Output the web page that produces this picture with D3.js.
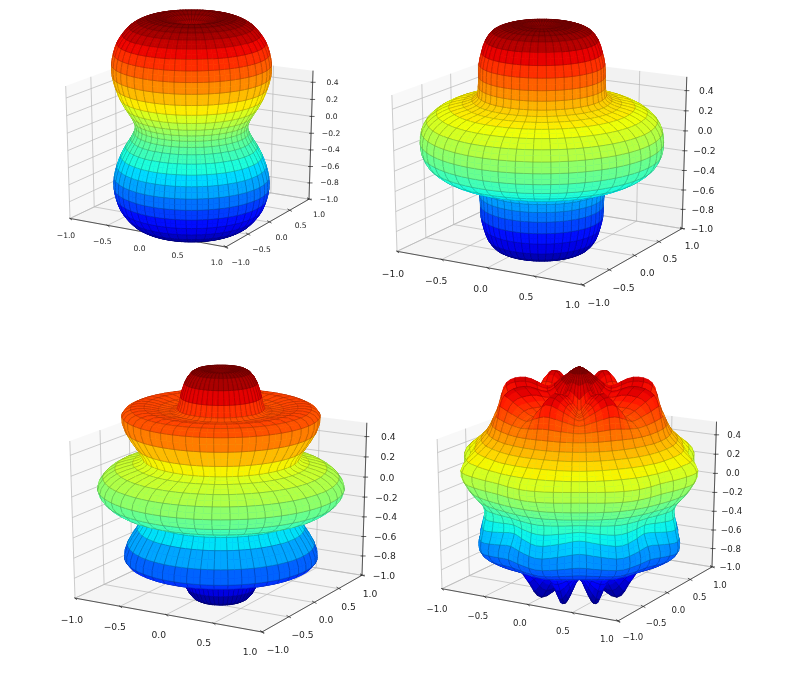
<!DOCTYPE html>
<html><head><meta charset="utf-8">
<script src="https://cdn.jsdelivr.net/npm/d3@7"></script>
<style>
html,body{margin:0;padding:0;background:#fff}
svg{display:block;filter:blur(0.35px)}
text{font-family:"DejaVu Sans";fill:#262626}
</style></head><body>
<svg id="chart" width="787" height="677"></svg>
<script>
// ----- tick values -----
const xTicks = [-1, -0.5, 0, 0.5, 1];
const yTicks = [-1, -0.5, 0, 0.5, 1];
const zTicks = [-1, -0.8, -0.6, -0.4, -0.2, 0, 0.2, 0.4];
const zTop = 0.535;

// ----- radius against polar angle, 0 to 180 degrees every 5 degrees -----
const radiusA = [1.05,1.07,1.12,1.18,1.24,1.27,1.29,1.30,1.29,1.27,1.23,1.18,1.11,1.02,0.93,0.84,0.76,0.71,0.69,
                 0.71,0.76,0.84,0.93,1.02,1.11,1.18,1.23,1.27,1.29,1.30,1.29,1.27,1.24,1.18,1.12,1.07,1.05];
const radiusB = [1.04,1.06,1.10,1.12,1.13,1.13,1.09,1.02,0.95,0.87,0.81,0.77,0.79,0.86,0.97,1.07,1.15,1.19,1.20,
                 1.19,1.15,1.07,0.97,0.86,0.79,0.77,0.81,0.87,0.95,1.02,1.09,1.13,1.13,1.12,1.10,1.06,1.04];
const radiusC = [1.05,1.08,1.11,1.10,1.03,0.93,0.85,0.87,0.95,1.06,1.15,1.18,1.08,0.92,0.82,0.90,1.06,1.17,1.22,
                 1.17,1.06,0.90,0.82,0.92,1.08,1.18,1.15,1.06,0.95,0.87,0.85,0.93,1.03,1.10,1.11,1.08,1.05];
// ----- rippled shape: radius along two meridians, 0 to 180 degrees every 10 degrees -----
const rippleCrest  = [1.13,1.03,0.98,1.14,1.20,1.10,1.04,1.12,1.24,1.12,1.00,1.08,1.20,1.14,1.04,1.10,1.20,1.03,0.98];
const rippleTrough = [1.13,1.00,0.82,0.86,0.98,1.04,1.04,1.08,1.12,1.10,0.96,0.96,1.14,1.12,1.00,0.92,0.90,0.94,0.98];
const rippleLobes = 8;
const rippleCrestAzimuth = -37.5;

// ----- layout of the four panels -----
const panels = [
 {kind:"revolve", radius:radiusA, zShift:-0.02, zScale:1.06, rhoScale:0.91, font:7.6,
  a:[70,217], b:[227,247], c:[309,198], d:[68,86],
  xOff:[[-4,17],[-9,15]], yOff:[[15,15],[10,15]], zOff:[20,0]},
 {kind:"revolve", radius:radiusB, zShift:-0.005, zScale:1.03, rhoScale:0.95, font:9.2,
  a:[397,249], b:[582,285], c:[682,228], d:[395,95],
  xOff:[[-4,22],[-10,19]], yOff:[[16,17],[10,17]], zOff:[20,0]},
 {kind:"revolve", radius:radiusC, zShift:0, zScale:1.03, rhoScale:0.94, font:9.2,
  a:[75,597], b:[262,632], c:[362,574], d:[73,441],
  xOff:[[-3,21],[-12,19]], yOff:[[16,17],[8,18]], zOff:[22,0]},
 {kind:"ripple", zShift:0, zScale:1.03, rhoScale:1, font:8.6,
  a:[442,587], b:[618,621], c:[712,565], d:[439,439],
  xOff:[[-5,20],[-11,18]], yOff:[[15,16],[8,18]], zOff:[18,0]}
];

// ----- jet colour map -----
const jetR = d3.scaleLinear([0,.35,.66,.89,1],[0,0,1,1,.5]).clamp(true);
const jetG = d3.scaleLinear([0,.125,.375,.64,.91,1],[0,0,1,1,0,0]).clamp(true);
const jetB = d3.scaleLinear([0,.11,.34,.65,1],[.5,1,1,0,0]).clamp(true);
const jet = t => d3.rgb(jetR(t)*255, jetG(t)*255, jetB(t)*255).formatRgb();

// ----- 3D view -----
const elev = 20*Math.PI/180, azim = -60*Math.PI/180, dist = 10;
const nx = d3.scaleLinear([-1,1],[0,1]), ny = d3.scaleLinear([-1,1],[0,1]), nz = d3.scaleLinear([-1,zTop],[0,1]);
const n = [Math.cos(elev)*Math.cos(azim), Math.cos(elev)*Math.sin(azim), Math.sin(elev)];
const u = [-n[1]/Math.hypot(n[0],n[1]), n[0]/Math.hypot(n[0],n[1]), 0];
const v = [n[1]*u[2]-n[2]*u[1], n[2]*u[0]-n[0]*u[2], n[0]*u[1]-n[1]*u[0]];
function view(x,y,z){
  const p=[nx(x)-.5-dist*n[0], ny(y)-.5-dist*n[1], nz(z)-.5-dist*n[2]];
  const xc=p[0]*u[0]+p[1]*u[1]+p[2]*u[2], yc=p[0]*v[0]+p[1]*v[1]+p[2]*v[2], zc=-(p[0]*n[0]+p[1]*n[1]+p[2]*n[2]);
  return {x:xc/zc*dist, y:yc/zc*dist, d:zc};
}

const svg = d3.select("#chart");
const line = d3.line();

// spline through the read values, so the surface passes through each of them
function through(arr,closed){
  const N=arr.length;
  const get=k=>closed?arr[((k%N)+N)%N]:arr[Math.max(0,Math.min(N-1,k))];
  return t=>{
    const w=closed?(((t%1)+1)%1)*N:t*(N-1);
    const i=closed?Math.floor(w):Math.min(Math.floor(w),N-2), f=w-i;
    const p0=get(i-1),p1=get(i),p2=get(i+1),p3=get(i+2);
    return .5*(2*p1+(p2-p0)*f+(2*p0-5*p1+4*p2-p3)*f*f+(3*p1-p0-3*p2+p3)*f*f*f);
  };
}
function rippleRadius(){
  const a=through(rippleCrest), b=through(rippleTrough);
  return (th,ph)=>{
    const c=a(th/180), t=b(th/180), m=(c+t)/2;
    return through([c,m,t,m],true)((ph-rippleCrestAzimuth)/(360/rippleLobes));
  };
}

function drawPanel(P){
  const g=svg.append("g");
  const sx=d3.scaleLinear([view(-1,-1,-1).x, view(1,1,-1).x],[P.a[0],P.c[0]]);
  const sy=d3.scaleLinear([view(1,-1,-1).y, view(-1,-1,zTop).y],[P.b[1],P.d[1]]);
  const pt=(x,y,z)=>{const q=view(x,y,z);return [sx(q.x),sy(q.y),q.d];};
  const poly=(arr)=>line(arr.map(c=>pt(...c).slice(0,2)))+"Z";
  // panes
  g.append("path").attr("d",poly([[-1,-1,-1],[-1,1,-1],[-1,1,zTop],[-1,-1,zTop]])).attr("fill","#f2f2f2").attr("fill-opacity",.5);
  g.append("path").attr("d",poly([[-1,1,-1],[1,1,-1],[1,1,zTop],[-1,1,zTop]])).attr("fill","#e6e6e6").attr("fill-opacity",.5);
  g.append("path").attr("d",poly([[-1,-1,-1],[1,-1,-1],[1,1,-1],[-1,1,-1]])).attr("fill","#ececec").attr("fill-opacity",.5);
  // grid
  const gridSegs=[];
  xTicks.forEach(t=>{gridSegs.push([[t,-1,-1],[t,1,-1],[t,1,zTop]]);});
  yTicks.forEach(t=>{gridSegs.push([[1,t,-1],[-1,t,-1],[-1,t,zTop]]);});
  zTicks.forEach(t=>{gridSegs.push([[-1,-1,t],[-1,1,t],[1,1,t]]);});
  g.selectAll("path.grid").data(gridSegs).join("path").attr("class","grid")
    .attr("d",s=>line(s.map(c=>pt(...c).slice(0,2)))).attr("fill","none").attr("stroke","#b8b8b8").attr("stroke-width",.7);
  // axis lines
  [[[-1,-1,-1],[1,-1,-1]],[[1,-1,-1],[1,1,-1]],[[1,1,-1],[1,1,zTop]]].forEach(s=>{
    g.append("path").attr("d",line(s.map(c=>pt(...c).slice(0,2)))).attr("stroke","#222").attr("stroke-width",.7).attr("fill","none");
  });
  const fmt=t=>d3.format(".1f")(t).replace("-","\u2212");
  const tick=(p,dx0,dy0,dx1,dy1)=>g.append("line").attr("x1",p[0]+dx0).attr("y1",p[1]+dy0).attr("x2",p[0]+dx1).attr("y2",p[1]+dy1).attr("stroke","#222").attr("stroke-width",.7);
  const label=(p,o,t)=>g.append("text").attr("x",p[0]+o[0]).attr("y",p[1]+o[1]).attr("text-anchor","middle").attr("dominant-baseline","central").attr("font-size",P.font).text(fmt(t));
  const blend=(o,t)=>{const k=(t+1)/2;return [o[0][0]+(o[1][0]-o[0][0])*k,o[0][1]+(o[1][1]-o[0][1])*k];};
  xTicks.forEach(t=>{const p=pt(t,-1,-1);tick(p,-1,-.6,2,1.6);label(p,blend(P.xOff,t),t);});
  yTicks.forEach(t=>{const p=pt(1,t,-1);tick(p,-2,-1.5,2.5,1);label(p,blend(P.yOff,t),t);});
  zTicks.forEach(t=>{const p=pt(1,1,t);tick(p,-2,0,3,0);label(p,P.zOff,t);});

  // surface: fine facets for a smooth outline, mesh lines every 5 and 8 degrees
  let rf;
  if(P.kind==="ripple") rf=rippleRadius();
  else { const s=through(P.radius); rf=(th,ph)=>s(th/180); }
  const thetas=d3.range(0,180.1,2.5), phis=d3.range(0,360,4);
  const vert=thetas.map(th=>phis.map(ph=>{
    const r=rf(th,ph), T=th*Math.PI/180, F=ph*Math.PI/180;
    return [P.rhoScale*r*Math.sin(T)*Math.cos(F), P.rhoScale*r*Math.sin(T)*Math.sin(F), P.zScale*r*Math.cos(T)+P.zShift];
  }));
  const all=vert.flat().map(c=>c[2]);
  const col=d3.scaleLinear([d3.min(all),d3.max(all)],[0,1]);
  const faces=[];
  for(let i=0;i<thetas.length-1;i++) for(let j=0;j<phis.length;j++){
    const j2=(j+1)%phis.length;
    const c=[vert[i][j],vert[i][j2],vert[i+1][j2],vert[i+1][j]];
    const q=c.map(k=>pt(...k));
    const k0=i-(i%2);
    const band=(vert[k0][j][2]+vert[k0][j2][2]+vert[k0+2][j][2]+vert[k0+2][j2][2])/4;
    faces.push({q,depth:d3.mean(q,k=>k[2]),color:jet(col(band)),
      top:i%2===0,bottom:(i+1)%2===0,left:j%2===0,right:j2%2===0});
  }
  faces.sort((a,b)=>b.depth-a.depth);
  const layers=faces.flatMap(f=>[{f,edge:false},{f,edge:true}]);
  g.selectAll("path.face").data(layers).join("path").attr("class","face")
   .attr("d",o=>{
     const p=d3.path(),q=o.f.q,f=o.f;
     if(!o.edge){p.moveTo(q[0][0],q[0][1]);p.lineTo(q[1][0],q[1][1]);p.lineTo(q[2][0],q[2][1]);p.lineTo(q[3][0],q[3][1]);p.closePath();}
     else{
       if(f.top){p.moveTo(q[0][0],q[0][1]);p.lineTo(q[1][0],q[1][1]);}
       if(f.bottom){p.moveTo(q[3][0],q[3][1]);p.lineTo(q[2][0],q[2][1]);}
       if(f.left){p.moveTo(q[0][0],q[0][1]);p.lineTo(q[3][0],q[3][1]);}
       if(f.right){p.moveTo(q[1][0],q[1][1]);p.lineTo(q[2][0],q[2][1]);}
     }
     return p.toString();
   })
   .attr("fill",o=>o.edge?"none":o.f.color)
   .attr("stroke",o=>o.edge?"#000":o.f.color)
   .attr("stroke-width",o=>o.edge?.4:.5)
   .attr("stroke-opacity",o=>o.edge?.42:1);
}
panels.forEach(drawPanel);
</script></body></html>
